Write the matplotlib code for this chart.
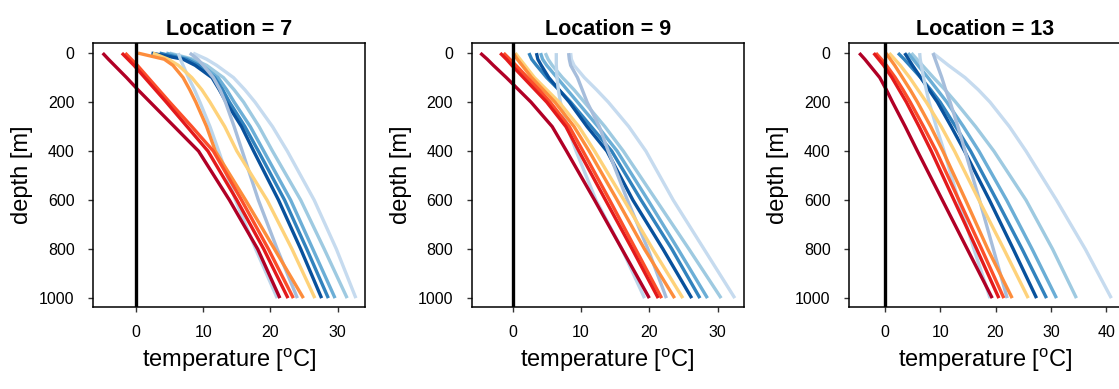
import matplotlib
matplotlib.use('Agg')
import matplotlib.pyplot as plt

plt.rcParams['font.family'] = ['Liberation Sans', 'DejaVu Sans']
plt.rcParams['mathtext.fontset'] = 'custom'
plt.rcParams['mathtext.rm'] = 'Liberation Sans'

# depth levels [m]
depth = [0, 25, 50, 100, 150, 200, 300, 400, 600, 800, 1000]

# line colours, drawn in this order (blues first, reds on top)
line_colors = ['#c6dbef', '#9ecae1', '#6baed6', '#3182bd', '#08519c',
               '#bcd5ea', '#a6bddb', '#fed27a', '#fd8d3c', '#fc4e2a',
               '#e31a1c', '#b10026']

# temperature profiles [degC], one row per line, same order as colours
loc7 = [
    [8.5, 10.5, 12.0, 14.5, 16.2, 17.7, 20.3, 22.5, 26.5, 29.8, 32.7],
    [5.0, 8.5, 10.5, 13.0, 14.6, 16.0, 18.3, 20.3, 24.5, 28.0, 31.4],
    [4.5, 8.0, 9.8, 12.2, 13.5, 14.6, 17.0, 19.0, 23.0, 26.3, 29.6],
    [3.5, 7.5, 9.3, 11.7, 12.9, 13.9, 16.2, 18.2, 22.1, 25.4, 28.6],
    [2.3, 7.0, 8.8, 11.3, 12.4, 13.4, 15.7, 17.5, 21.2, 24.5, 27.6],
    [6.3, 6.6, 7.0, 7.8, 8.7, 9.5, 11.0, 12.3, 14.8, 17.8, 21.0],
    [8.0, 9.2, 10.0, 11.5, 12.5, 13.3, 14.6, 15.8, 18.2, 21.0, 24.0],
    [2.5, 4.8, 6.3, 8.3, 9.8, 11.0, 13.2, 15.0, 19.5, 23.2, 26.6],
    [0.3, 4.2, 5.5, 7.0, 8.0, 8.9, 10.5, 11.8, 16.3, 20.6, 24.9],
    [-1.6, -0.7, 0.2, 1.8, 3.4, 5.0, 8.3, 11.5, 15.7, 19.7, 23.4],
    [-2.1, -1.2, -0.3, 1.3, 2.9, 4.5, 7.6, 10.7, 15.0, 19.0, 22.6],
    [-4.95, -4.1, -3.2, -1.4, 0.3, 2.1, 5.7, 9.3, 13.9, 18.1, 21.4],
]
loc9 = [
    [8.5, 8.6, 9.0, 10.5, 12.3, 14.0, 17.0, 19.5, 23.5, 28.0, 32.5],
    [4.8, 5.2, 5.8, 7.3, 9.0, 10.5, 13.5, 16.2, 21.0, 25.8, 30.5],
    [4.1, 4.4, 5.0, 6.5, 8.0, 9.5, 12.5, 15.3, 19.8, 24.2, 28.5],
    [2.4, 2.8, 3.5, 5.0, 6.8, 8.5, 11.5, 14.5, 18.8, 23.3, 27.4],
    [3.5, 3.7, 4.2, 5.3, 6.8, 8.3, 10.9, 13.8, 17.6, 22.0, 26.2],
    [6.4, 6.4, 6.4, 6.5, 6.7, 7.0, 8.0, 9.3, 12.2, 16.0, 19.3],
    [8.2, 8.3, 8.5, 9.5, 10.2, 10.9, 12.7, 14.0, 16.8, 19.8, 22.5],
    [0.4, 1.1, 1.8, 3.2, 5.0, 6.8, 9.7, 12.0, 16.3, 20.5, 24.9],
    [0.1, 0.7, 1.4, 2.8, 4.5, 6.2, 9.0, 11.2, 15.3, 19.3, 23.7],
    [-1.3, -0.4, 0.5, 2.2, 3.9, 5.5, 8.3, 10.3, 14.2, 18.0, 21.8],
    [-1.8, -0.9, -0.1, 1.6, 3.3, 5.0, 7.8, 9.7, 13.6, 17.5, 21.3],
    [-4.7, -3.7, -2.8, -0.9, 0.9, 2.7, 5.8, 7.9, 12.0, 16.0, 20.0],
]
loc13 = [
    [8.7, 10.1, 11.5, 14.5, 16.9, 19.0, 22.5, 25.5, 31.0, 36.2, 40.9],
    [4.8, 5.8, 6.8, 8.8, 10.9, 12.8, 16.4, 19.7, 25.5, 30.3, 34.6],
    [4.2, 5.1, 6.0, 7.8, 9.5, 11.2, 14.2, 17.0, 22.0, 26.6, 31.0],
    [2.4, 3.5, 4.5, 6.5, 8.3, 10.0, 12.8, 15.5, 20.2, 24.8, 29.2],
    [3.6, 4.3, 5.0, 6.5, 8.0, 9.5, 12.0, 14.4, 18.9, 23.2, 27.4],
    [6.3, 6.4, 6.6, 7.0, 7.5, 8.0, 9.3, 10.7, 13.3, 16.1, 19.0],
    [8.7, 9.1, 9.5, 10.3, 11.0, 11.8, 13.2, 14.5, 17.1, 19.6, 22.1],
    [0.8, 1.8, 2.8, 4.5, 6.0, 7.5, 10.2, 12.6, 17.0, 21.5, 25.9],
    [0.2, 1.0, 1.8, 3.2, 4.6, 5.9, 8.3, 10.5, 14.6, 18.6, 23.0],
    [-1.6, -0.6, 0.3, 1.9, 3.3, 4.6, 7.0, 9.3, 13.4, 17.5, 21.5],
    [-2.0, -1.1, -0.2, 1.3, 2.6, 3.9, 6.2, 8.4, 12.5, 16.6, 20.6],
    [-4.6, -3.6, -2.7, -0.9, 0.3, 1.4, 3.7, 5.9, 10.4, 14.9, 19.4],
]

locations = [7, 9, 13]
profiles = [loc7, loc9, loc13]
xlims = [(-6.35, 34.1), (-5.97, 33.8), (-6.4, 42.7)]
xticks = [[0, 10, 20, 30], [0, 10, 20, 30], [0, 10, 20, 30, 40]]

W, H = 1119, 389
fig = plt.figure(figsize=(W / 100, H / 100), dpi=100)
lefts = [93.3, 471.7, 849.3]

for i in range(3):
    ax = fig.add_axes([lefts[i] / W, 1 - 306.7 / H, 272 / W, 263.4 / H])
    for row, c in zip(profiles[i], line_colors):
        ax.plot(row, depth, color=c, lw=2.4, solid_capstyle='butt')
    ax.axvline(0, color='black', lw=2.4, zorder=5)
    ax.set_xlim(*xlims[i])
    ax.set_ylim(1035, -40)
    ax.set_xticks(xticks[i])
    ax.set_yticks([0, 200, 400, 600, 800, 1000])
    ax.tick_params(labelsize=11.5, length=3.5, width=1, pad=10, color='#333333')
    for s in ax.spines.values():
        s.set_linewidth(1.1)
    ax.set_title('Location = %d' % locations[i], fontsize=15.5, fontweight='bold', pad=6)
    ax.set_xlabel('temperature [$^\\mathrm{o}$C]', fontsize=17, labelpad=4)
    ax.set_ylabel('depth [m]', fontsize=17, labelpad=4)

fig.savefig('out.png', dpi=100)
